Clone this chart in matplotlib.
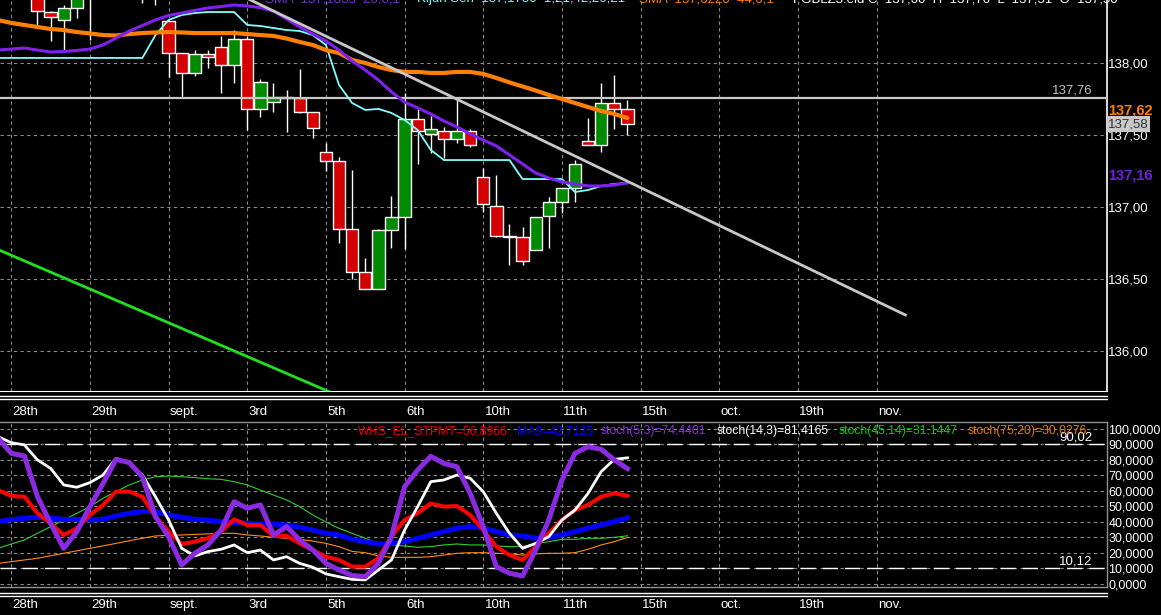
import matplotlib
matplotlib.use('Agg')
import matplotlib.pyplot as plt
import numpy as np
from matplotlib.lines import Line2D
import matplotlib.transforms as mtransforms

plt.rcParams['font.family'] = ['Liberation Sans', 'DejaVu Sans']

# ---------------- data ----------------
# candles (index 0..45)
opens = [138.500, 138.354, 138.299, 138.382, 138.550, 138.620, 138.580, 138.650, 138.600, 138.550,
         138.292, 138.069, 137.930, 138.0625, 138.111, 137.986, 138.167, 137.680, 137.729, 137.764,
         137.757, 137.660, 137.382, 137.319, 136.847, 136.549, 136.431, 136.840, 136.931, 137.611,
         137.507, 137.528, 137.472, 137.528, 137.208, 137.007, 136.800, 136.792, 136.701, 136.9375,
         137.035, 137.132, 137.458, 137.430, 137.722, 137.680]
highs = [138.550, 138.360, 138.403, 138.550, 138.700, 138.700, 138.720, 138.700, 138.680, 138.620,
         138.300, 138.070, 138.090, 138.090, 138.1875, 138.229, 138.180, 137.889, 137.861, 137.8125,
         137.958, 137.660, 137.444, 137.347, 137.257, 136.646, 136.850, 137.076, 137.790, 137.680,
         137.632, 137.556, 137.743, 137.542, 137.271, 137.222, 136.882, 136.861, 136.931, 137.069,
         137.132, 137.326, 137.618, 137.861, 137.917, 137.743]
lows = [138.250, 138.153, 138.083, 138.3125, 138.160, 138.500, 138.500, 138.500, 138.420, 138.400,
        137.903, 137.757, 137.910, 137.965, 137.790, 137.861, 137.535, 137.625, 137.660, 137.521,
        137.650, 137.479, 137.250, 136.750, 136.500, 136.431, 136.431, 136.715, 136.708, 137.299,
        137.375, 137.340, 137.444, 137.417, 136.965, 136.790, 136.597, 136.597, 136.700, 136.715,
        136.958, 137.035, 137.430, 137.382, 137.542, 137.500]
closes = [138.361, 138.319, 138.382, 138.470, 138.600, 138.580, 138.650, 138.600, 138.550, 138.500,
          138.069, 137.930, 138.0625, 138.042, 137.986, 138.167, 137.680, 137.868, 137.764, 137.757,
          137.660, 137.549, 137.319, 136.847, 136.549, 136.431, 136.840, 136.931, 137.611, 137.528,
          137.542, 137.472, 137.528, 137.430, 137.021, 136.799, 136.795, 136.625, 136.931, 137.035,
          137.132, 137.299, 137.430, 137.722, 137.680, 137.576]

# indicator lines, bar index -3..45
line_start = -3
sma44 = [138.298, 138.278, 138.264,
         138.250, 138.236, 138.229, 138.215, 138.205, 138.194, 138.191, 138.201, 138.208, 138.212,
         138.215, 138.212, 138.208, 138.208, 138.208, 138.208, 138.201, 138.194, 138.188, 138.170,
         138.146, 138.125, 138.090, 138.069, 138.021, 138.000, 137.972, 137.951, 137.938, 137.938,
         137.931, 137.931, 137.938, 137.938, 137.924, 137.896, 137.865, 137.837, 137.809, 137.778,
         137.750, 137.722, 137.694, 137.667, 137.646, 137.618]
sma20 = [138.090, 138.097, 138.104,
         138.090, 138.076, 138.080, 138.087, 138.097, 138.125, 138.174, 138.222, 138.260, 138.299,
         138.330, 138.347, 138.365, 138.382, 138.392, 138.403, 138.396, 138.385, 138.361, 138.306,
         138.250, 138.201, 138.153, 138.090, 138.014, 137.951, 137.882, 137.799, 137.729, 137.688,
         137.646, 137.597, 137.556, 137.507, 137.465, 137.424, 137.361, 137.299, 137.236, 137.201,
         137.174, 137.160, 137.146, 137.146, 137.153, 137.167]
kijun = [138.035, 138.035, 138.035,
         138.035, 138.035, 138.035, 138.035, 138.035, 138.035, 138.035, 138.035, 138.035, 138.194,
         138.299, 138.333, 138.347, 138.354, 138.354, 138.354, 138.264, 138.257, 138.243, 138.229,
         138.222, 138.194, 138.125, 137.847, 137.722, 137.674, 137.681, 137.653, 137.604, 137.535,
         137.396, 137.326, 137.326, 137.326, 137.326, 137.326, 137.326, 137.194, 137.194, 137.194,
         137.194, 137.104, 137.118, 137.146, 137.160, 137.167]

stpmt = [60.6, 56.8, 56.3,
         45.6, 39.1, 31.6, 35.9, 44.5, 51.0, 59.6, 59.6, 56.3, 43.4,
         33.8, 25.8, 27.3, 29.5, 33.8, 41.7, 38.0, 38.0, 31.0, 31.0,
         26.2, 21.9, 17.6, 15.5, 11.2, 11.2, 16.6, 30.5, 41.3, 45.6,
         52.0, 49.9, 50.3, 44.5, 34.8, 24.1, 18.7, 15.5, 24.1, 32.7,
         41.3, 47.7, 51.0, 56.3, 58.5, 56.9]
ma9 = [40.2, 41.5, 42.4,
       43.0, 42.4, 41.7, 41.7, 41.3, 41.7, 43.9, 45.6, 46.7, 46.7,
       44.5, 43.0, 41.7, 41.3, 40.2, 39.6, 39.1, 38.7, 38.7, 38.0,
       36.6, 34.8, 32.7, 31.6, 28.8, 27.3, 25.8, 26.2, 27.3, 29.5,
       31.6, 33.8, 36.0, 37.0, 36.0, 33.8, 31.6, 31.0, 29.5, 30.1,
       31.6, 33.8, 36.0, 38.1, 40.2, 42.7]
stoch_5_3 = [94.0, 84.3, 82.6,
             56.3, 39.1, 23.0, 33.8, 49.9, 64.9, 80.4, 78.3, 69.2, 43.4,
             30.5, 12.3, 19.8, 25.2, 34.8, 53.1, 48.8, 51.0, 31.6, 37.0,
             28.4, 21.9, 13.3, 9.0, 5.5, 4.7, 13.3, 30.5, 62.8, 73.5,
             82.4, 77.8, 75.6, 58.5, 37.0, 11.2, 6.9, 5.2, 22.0, 41.3,
             67.1, 84.3, 88.6, 86.9, 80.0, 74.4]
stoch_14_3 = [95.0, 91.2, 89.7,
              80.0, 74.6, 63.9, 62.4, 65.4, 70.3, 81.1, 77.8, 70.3, 56.3,
              41.3, 23.0, 18.1, 20.9, 22.4, 25.2, 20.2, 21.9, 15.5, 17.6,
              13.3, 10.8, 6.5, 4.7, 3.0, 2.6, 9.0, 15.5, 34.8, 49.9,
              66.0, 67.1, 70.3, 68.2, 59.6, 45.6, 32.7, 23.0, 26.2, 30.5,
              41.3, 47.7, 58.5, 72.5, 80.4, 81.4]
stoch_45_14 = [23.0, 25.8, 28.4,
               32.7, 37.0, 41.3, 45.6, 49.9, 55.3, 59.6, 63.9, 67.1, 69.2,
               69.7, 69.2, 68.6, 67.9, 67.5, 66.0, 63.9, 60.6, 57.4, 54.2,
               49.9, 44.5, 40.0, 35.9, 32.7, 29.5, 26.2, 25.2, 24.5, 23.7,
               24.1, 25.2, 25.8, 25.2, 25.2, 24.5, 24.1, 24.1, 26.2, 27.3,
               28.8, 28.8, 29.5, 29.5, 30.1, 31.1]
stoch_75_20 = [13.3, 14.4, 15.5,
               16.6, 18.2, 19.8, 21.4, 23.0, 24.6, 26.2, 27.9, 29.5, 31.0,
               31.4, 31.6, 32.0, 32.3, 32.7, 32.7, 31.6, 31.0, 30.1, 29.5,
               28.8, 27.7, 26.2, 24.1, 21.0, 20.2, 18.1, 17.2, 17.2, 17.2,
               17.6, 18.7, 19.8, 20.2, 20.2, 19.8, 19.4, 18.7, 19.4, 19.8,
               19.8, 20.2, 22.4, 25.2, 27.3, 30.0]

# trend lines (bar index, price)
trend_gray_x = [16.2, 66.2]
trend_gray_y = [138.44, 136.25]
trend_green_x = [-2.9, 22.3]
trend_green_y = [136.70, 135.715]
hline_price = 137.76
band_hi, band_lo = 90.02, 10.12

price_ticks = [136.0, 136.5, 137.0, 137.5, 138.0]
price_tick_labels = ['136,00', '136,50', '137,00', '137,50', '138,00']
osc_ticks = [0, 10, 20, 30, 40, 50, 60, 70, 80, 90, 100]
osc_tick_labels = ['0,0000', '10,0000', '20,0000', '30,0000', '40,0000', '50,0000',
                   '60,0000', '70,0000', '80,0000', '90,0000', '100,0000']
date_pos = [-2, 4, 10, 16, 22, 28, 34, 40, 46, 52, 58, 64]
date_labels = ['28th', '29th', 'sept.', '3rd', '5th', '6th', '10th', '11th', '15th', 'oct.', '19th', 'nov.']

# ---------------- figure ----------------
W, H = 1161, 615
fig = plt.figure(figsize=(W / 100, H / 100), dpi=100, facecolor='black')

def fx(px):
    return px / W

def fy(py):
    return 1 - py / H

ax = fig.add_axes([0, fy(391), fx(1107), 391 / H], facecolor='black')
ax2 = fig.add_axes([0, fy(587), fx(1107), 165 / H], facecolor='black')

XL = (-2.86, 81.58)
for a in (ax, ax2):
    a.set_xlim(*XL)
    a.set_xticks([])
    for x in date_pos:
        a.axvline(x, color='#8a8a8a', lw=0.8, ls=(0, (3, 3)), zorder=0.5)

ax.set_ylim(135.722, 138.4375)
ax2.set_ylim(-1.94, 104.5)

# grid horizontals
for p in price_ticks:
    ax.axhline(p, color='#8a8a8a', lw=0.8, ls=(0, (3, 3)), zorder=0.5)
for v in osc_ticks:
    ax2.axhline(v, color='#8a8a8a', lw=0.8, ls=(0, (3, 3)), zorder=0.5)

# spines
for s in ('top', 'left'):
    ax.spines[s].set_visible(False)
ax.spines['right'].set_color('white')
ax.spines['bottom'].set_color('white')
ax.spines['right'].set_linewidth(1.2)
ax2.spines['left'].set_visible(False)
for s in ('top', 'right', 'bottom'):
    ax2.spines[s].set_color('#909090')
    ax2.spines[s].set_linewidth(1.0)

# ticks on right
ax.yaxis.tick_right()
ax.set_yticks(price_ticks)
ax.set_yticklabels(price_tick_labels)
ax.tick_params(axis='y', length=0, pad=1, labelcolor='white', labelsize=9.5)
ax2.yaxis.tick_right()
ax2.set_yticks(osc_ticks)
ax2.set_yticklabels(osc_tick_labels)
ax2.tick_params(axis='y', length=0, pad=1, labelcolor='white', labelsize=9)

# candles
o = np.array(opens); c = np.array(closes)
hh = np.array(highs); ll = np.array(lows)
idx = np.arange(len(o))
cols = np.where(c >= o, '#008a00', '#d40000')
ax.vlines(idx, ll, hh, color='white', lw=1.0, zorder=3)
ax.bar(idx, c - o, bottom=o, width=0.94, color=cols, edgecolor='white', linewidth=1.0, zorder=4)

lx = np.arange(line_start, line_start + len(sma44))
ax.axhline(hline_price, color='#c8c8c8', lw=1.6, zorder=5)
ax.text(0.987, hline_price + 0.01, '137,76', transform=mtransforms.blended_transform_factory(ax.transAxes, ax.transData),
        ha='right', va='bottom', color='#c0c0c0', fontsize=9.5)
ax.plot(lx, kijun, color='#80ffff', lw=1.3, zorder=6)
ax.plot(lx, sma44, color='#ff8000', lw=3.0, zorder=7, solid_capstyle='round')
ax.plot(lx, sma20, color='#8020f0', lw=2.2, zorder=8)
ax.plot(trend_gray_x, trend_gray_y, color='#c8c8c8', lw=2.0, zorder=9)
ax.plot(trend_green_x, trend_green_y, color='#20e020', lw=2.0, zorder=9)

# right-side value labels
bt = mtransforms.blended_transform_factory(ax.transAxes, ax.transData)
ax.text(1.001, sma44[-1], '137,62', transform=bt, ha='left', va='bottom', color='#ff8000',
        fontsize=10.5, fontweight='bold', clip_on=False, zorder=20)
ax.text(1.001, closes[-1], '137,58', transform=bt, ha='left', va='center', color='#303030',
        fontsize=9.5, clip_on=False, zorder=21,
        bbox=dict(boxstyle='square,pad=0.12', fc='#c8c8c8', ec='none'))
ax.text(1.001, sma20[-1], '137,16', transform=bt, ha='left', va='bottom', color='#7020e0',
        fontsize=10.5, fontweight='bold', clip_on=False, zorder=20)

# oscillator panel
ax2.axhline(band_hi, color='white', lw=1.0, ls=(0, (11, 5)), zorder=1)
ax2.axhline(band_lo, color='white', lw=1.0, ls=(0, (11, 5)), zorder=1)
bt2 = mtransforms.blended_transform_factory(ax2.transAxes, ax2.transData)
ax2.text(0.987, band_hi + 0.5, '90,02', transform=bt2, ha='right', va='bottom', color='white', fontsize=9.5)
ax2.text(0.987, band_lo + 0.5, '10,12', transform=bt2, ha='right', va='bottom', color='white', fontsize=9.5)
ax2.plot(lx, stoch_75_20, color='#ff8c1a', lw=0.8, zorder=3)
ax2.plot(lx, stoch_45_14, color='#33cc33', lw=0.8, zorder=3)
ax2.plot(lx, ma9, color='#0000ff', lw=3.6, zorder=4)
ax2.plot(lx, stpmt, color='#ff0000', lw=2.9, zorder=5)
ax2.plot(lx, stoch_14_3, color='white', lw=2.0, zorder=6)
ax2.plot(lx, stoch_5_3, color='#8a2be2', lw=3.6, zorder=7)

# legend texts in oscillator panel
leg = [(358, 'WHS_EL_STPMT=56,8966', '#e00000'), (517, 'MA9=42,7125', '#0000ff'),
       (601, 'stoch(5,3)=74,4401', '#8a2be2'), (717, 'stoch(14,3)=81,4165', 'white'),
       (839, 'stoch(45,14)=31,1447', '#00cc00'), (968, 'stoch(75,20)=30,0276', '#e07b00')]
for px, t, col in leg:
    fig.text(fx(px), fy(431), t, color=col, fontsize=8.8, ha='left', va='center')

# date labels (two rows)
for x, lab in zip(date_pos, date_labels):
    ax.text(x + 0.1, -0.054, lab, transform=mtransforms.blended_transform_factory(ax.transData, ax.transAxes),
            color='white', fontsize=9.5, ha='left', va='center', clip_on=False)
    ax2.text(x + 0.1, -0.109, lab, transform=mtransforms.blended_transform_factory(ax2.transData, ax2.transAxes),
             color='white', fontsize=9.5, ha='left', va='center', clip_on=False)

# separator lines
for py in (395.5, 398.5, 593, 596):
    fig.add_artist(Line2D([0, fx(1107)], [fy(py), fy(py)], color='white', lw=1.0))

# header texts (clipped at top)
hdr = [(265, 'SMA  137,1833  20,0,1', '#7030d0'), (417, 'Kijun Sen  137,1750  1,21,42,26,21', '#80ffff'),
       (639, 'SMA  137,6220  44,0,1', '#ff8000'), (793, 'FGBLZ3.eld C  137,60  H  137,70  L  137,51  O  137,50', 'white')]
for px, t, col in hdr:
    fig.text(fx(px), fy(2.0), t, color=col, fontsize=9.5, ha='left', va='baseline')

fig.savefig('out.png', dpi=100, facecolor='black')
